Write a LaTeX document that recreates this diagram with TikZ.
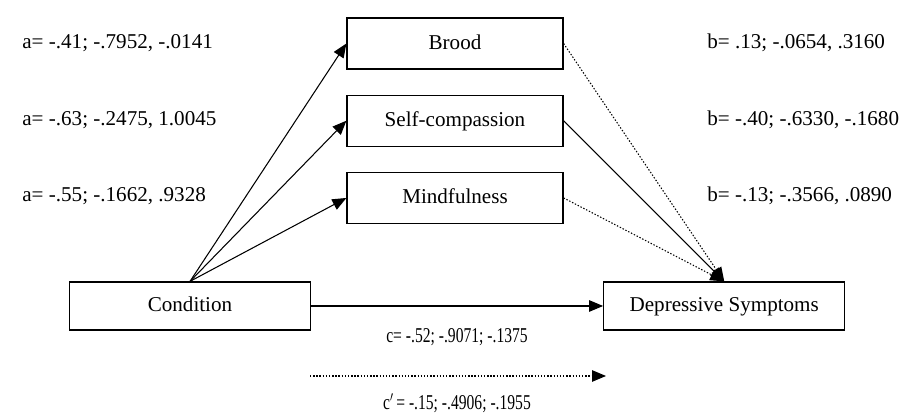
\documentclass[tikz,border=0pt]{standalone}
\usepackage{fontspec}
\setmainfont{Liberation Serif}
\usepackage{graphicx}
\usetikzlibrary{arrows.meta, positioning}
\tikzset{
	medbox/.style={draw=black, line width=0.7pt, minimum width=4.32cm, minimum height=1.02cm,
		inner sep=2pt, text height=1.5ex, text depth=0.1ex, font=\fontsize{12}{14}\selectfont},
	endbox/.style={medbox, minimum width=4.82cm, minimum height=0.96cm},
	coef/.style={anchor=west, inner sep=0pt, font=\fontsize{12}{14}\selectfont},
	marr/.style={-{Triangle[length=2.8mm, width=2.3mm]}, line width=0.6pt},
	darr/.style={marr, dash pattern=on 0.8pt off 1pt}
}

\begin{document}
\begin{tikzpicture}[node distance=0.5cm and 5.84cm]
	\useasboundingbox (0,0) rectangle (18,8.26);
	\node[endbox] (cond) at (3.8,2.14) {Condition};
	\node[endbox, right=of cond] (dep) {Depressive Symptoms};
	\node[medbox] (brood) at (9.1,7.39) {Brood};
	\node[medbox, below=of brood] (selfc) {Self-compassion};
	\node[medbox, below=of selfc] (mind) {Mindfulness};
	% a paths
	\node[coef] (abrood) at (0.44,7.40) {a= -.41; -.7952, -.0141};
	\node[coef] (aselfc) at (0.44,5.86) {a= -.63; -.2475, 1.0045};
	\node[coef] (amind) at (0.44,4.34) {a= -.55; -.1662, .9328};
	% b paths
	\node[coef] (bbrood) at (14.14,7.40) {b= .13; -.0654, .3160};
	\node[coef] (bselfc) at (14.14,5.86) {b= -.40; -.6330, -.1680};
	\node[coef] (bmind) at (14.14,4.34) {b= -.13; -.3566, .0890};
	% c paths
	\node[coef, anchor=center] (ctot) at (9.14,1.52) {\scalebox{0.74}[1]{c= -.52; -.9071; -.1375}};
	\node[coef, anchor=center] (cdir) at (9.14,0.2) {\scalebox{0.74}[1]{c$'$\,= -.15; -.4906; -.1955}};
	\coordinate (dotA) at (6.2,0.74);
	\coordinate (dotB) at (12.12,0.74);
	\draw[marr] (cond.north) -- (brood.west);
	\draw[marr] (cond.north) -- (selfc.west);
	\draw[marr] (cond.north) -- (mind.west);
	\draw[darr] (brood.east) -- (dep.north);
	\draw[darr] (mind.east) -- (dep.north);
	\draw[marr] (selfc.east) -- (dep.north);
	\draw[marr] (cond) -- (dep);
	\draw[darr] (dotA) -- (dotB);
\end{tikzpicture}
\end{document}
